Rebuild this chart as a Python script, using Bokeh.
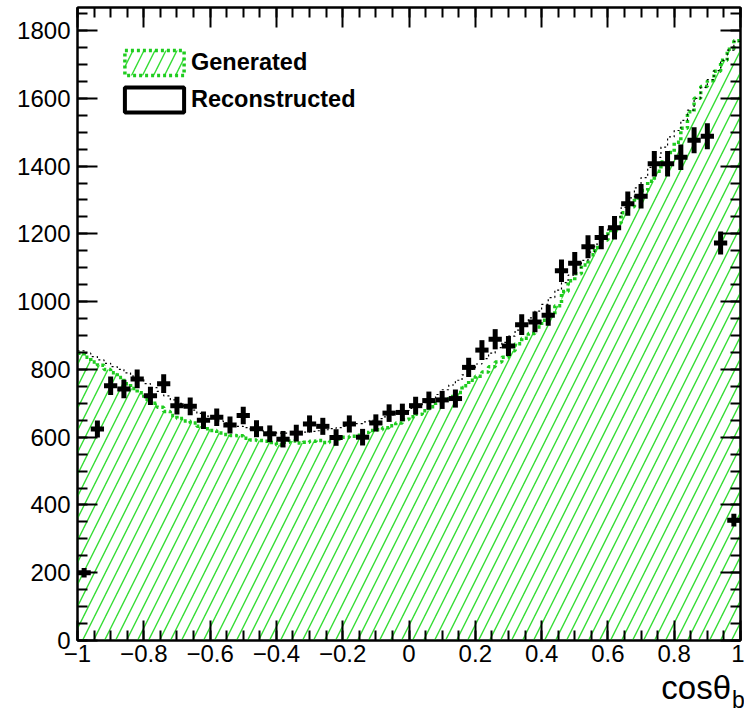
import numpy as np
from bokeh.plotting import figure
from bokeh.layouts import column
from bokeh.models import (Range1d, LinearAxis, FixedTicker, CustomJSTickFormatter,
                          Legend, LegendItem, Div)
from bokeh.embed import file_html
from bokeh.resources import INLINE

# ---- data -----------------------------------------------------------------
# Generated distribution: 100 bins on [-1, 1]
gen_lo, gen_hi, gen_nbins = -1.0, 1.0, 100
gen_counts = [
    848, 836, 822, 812, 800, 790, 776, 758, 744, 731,
    712, 700, 688, 676, 664, 655, 648, 642, 632, 625,
    620, 612, 608, 605, 604, 597, 592, 590, 588, 584,
    577, 585, 589, 583, 585, 588, 590, 584, 587, 595,
    600, 603, 606, 614, 620, 622, 628, 634, 642, 652,
    660, 668, 678, 690, 700, 710, 720, 732, 752, 768,
    780, 792, 808, 822, 836, 855, 876, 892, 906, 925,
    945, 962, 988, 1030, 1062, 1082, 1108, 1138, 1160, 1182,
    1210, 1232, 1262, 1280, 1306, 1328, 1355, 1385, 1412, 1440,
    1470, 1512, 1560, 1600, 1635, 1652, 1680, 1712, 1745, 1770,
]

# Dotted reference curve (same binning)
ref_counts = [
    855, 848, 838, 828, 818, 808, 800, 790, 780, 770,
    758, 746, 735, 722, 710, 700, 690, 680, 670, 662,
    655, 648, 642, 636, 632, 628, 624, 620, 617, 614,
    612, 612, 612, 613, 615, 617, 619, 622, 625, 628,
    632, 636, 640, 645, 650, 655, 660, 666, 672, 678,
    685, 692, 702, 714, 726, 740, 754, 768, 784, 800,
    816, 832, 848, 864, 880, 898, 916, 934, 952, 972,
    992, 1012, 1034, 1056, 1078, 1100, 1122, 1146, 1170, 1196,
    1222, 1250, 1278, 1306, 1336, 1366, 1396, 1426, 1456, 1486,
    1505, 1535, 1565, 1600, 1632, 1655, 1682, 1712, 1742, 1768,
]

# Reconstructed distribution: 50 bins on [-1, 1]
reco_lo, reco_hi, reco_nbins = -1.0, 1.0, 50
reco_counts = [
    200, 624, 752, 742, 772, 722, 758, 693, 691, 650,
    659, 636, 664, 625, 610, 594, 612, 639, 632, 599,
    639, 600, 642, 671, 673, 693, 708, 710, 714, 806,
    857, 889, 869, 932, 940, 960, 1091, 1113, 1162, 1189,
    1218, 1289, 1311, 1407, 1407, 1426, 1476, 1488, 1173, 355,
]

x_major = [-1.0, -0.8, -0.6, -0.4, -0.2, 0.0, 0.2, 0.4, 0.6, 0.8, 1.0]
y_major = [0, 200, 400, 600, 800, 1000, 1200, 1400, 1600, 1800]

GREEN = "#1fcc1f"
HATCH_GREEN = "#33dd33"
FONT = "Liberation Sans"

# ---- derived arrays -------------------------------------------------------
gen_edges = np.linspace(gen_lo, gen_hi, gen_nbins + 1)
gen_step = list(gen_counts) + [gen_counts[-1]]
ref_step = list(ref_counts) + [ref_counts[-1]]

reco_edges = np.linspace(reco_lo, reco_hi, reco_nbins + 1)
reco_x = 0.5 * (reco_edges[:-1] + reco_edges[1:])
reco_y = np.array(reco_counts, dtype=float)
reco_err = np.sqrt(reco_y)

# ---- figure ---------------------------------------------------------------
p = figure(width=744, height=676, output_backend="svg", toolbar_location=None,
           x_range=Range1d(-1, 1), y_range=Range1d(0, 1868),
           min_border_left=77, min_border_right=4, min_border_top=7,
           min_border_bottom=36, background_fill_color="white",
           border_fill_color="white")
p.xgrid.visible = False
p.ygrid.visible = False
p.outline_line_color = "black"
p.outline_line_width = 2

# Generated: hatched area with dotted outline
p.varea_step(x=gen_edges, y1=np.zeros(len(gen_edges)), y2=gen_step, step_mode="after",
             fill_color=None, hatch_pattern="/", hatch_color=HATCH_GREEN,
             hatch_scale=22, hatch_weight=1.4)
p.step(x=gen_edges, y=gen_step, mode="after", line_color=GREEN, line_width=3.5,
       line_dash="3 3")

# Dotted black curve
p.step(x=gen_edges, y=ref_step, mode="after", line_color="black", line_width=1.2,
       line_dash="2 3")

# Reconstructed: error-bar crosses
p.segment(x0=reco_x, x1=reco_x, y0=reco_y - reco_err, y1=reco_y + reco_err,
          line_color="black", line_width=5)
p.segment(x0=reco_edges[:-1], x1=reco_edges[1:], y0=reco_y, y1=reco_y,
          line_color="black", line_width=5)

# ---- axes -----------------------------------------------------------------
x_minor = [round(-1 + 0.05 * i, 4) for i in range(41)]
y_minor = list(range(0, 1868, 50))
xticker = FixedTicker(ticks=x_major, minor_ticks=x_minor)
yticker = FixedTicker(ticks=y_major, minor_ticks=y_minor)

xfmt = CustomJSTickFormatter(code="""
const v = Math.round(tick * 10) / 10;
let s = (Math.abs(v - Math.round(v)) < 1e-9) ? String(Math.round(v)) : v.toFixed(1);
if (s === "-0") s = "0";
return s.replace("-", "\u2212");
""")
blank = CustomJSTickFormatter(code="return '';")


def style_axis(ax, size="24px"):
    ax.axis_line_color = "black"
    ax.axis_line_width = 2
    ax.major_tick_in = 20
    ax.major_tick_out = 0
    ax.minor_tick_in = 10
    ax.minor_tick_out = 0
    ax.major_tick_line_width = 2
    ax.minor_tick_line_width = 2
    ax.major_tick_line_color = "black"
    ax.minor_tick_line_color = "black"
    ax.major_label_text_font = FONT
    ax.major_label_text_font_size = size
    ax.major_label_text_color = "black"


xax = p.xaxis[0]
xax.ticker = xticker
xax.formatter = xfmt
style_axis(xax)
xax.major_label_standoff = 4

yax = p.yaxis[0]
yax.ticker = yticker
style_axis(yax)
yax.major_label_standoff = 7

top = LinearAxis(ticker=xticker, formatter=blank)
style_axis(top, "0px")
top.major_label_standoff = 0
p.add_layout(top, "above")

right = LinearAxis(ticker=yticker, formatter=blank)
style_axis(right, "0px")
right.major_label_standoff = 0
p.add_layout(right, "right")

# ---- legend ---------------------------------------------------------------
# key swatches sit outside the visible x range; only the legend shows them
gen_key = p.quad(left=[5], right=[6], top=[1], bottom=[0], fill_color=None,
                 hatch_pattern="/", hatch_color=HATCH_GREEN, hatch_scale=22,
                 hatch_weight=1.4, line_color=GREEN, line_width=3.5, line_dash="3 3")
reco_key = p.quad(left=[5], right=[6], top=[1], bottom=[0], fill_color=None,
                  line_color="black", line_width=4)

legend = Legend(items=[LegendItem(label="Generated", renderers=[gen_key]),
                       LegendItem(label="Reconstructed", renderers=[reco_key])],
                location="top_left", margin=40, padding=0, spacing=6,
                glyph_width=74, glyph_height=31, label_standoff=0,
                label_text_font=FONT, label_text_font_size="23.5px",
                label_text_font_style="bold", label_text_color="black",
                border_line_color=None, background_fill_alpha=0)
p.add_layout(legend)

# ---- x-axis title (lower right, with subscript) ---------------------------
title_html = (
    '<div style="position:relative;width:744px;height:37px;'
    'font-family:\'Liberation Sans\';color:black;">'
    '<span style="position:absolute;right:13px;top:-5px;font-size:33px;'
    'line-height:33px;">cos&theta;</span>'
    '<span style="position:absolute;left:732px;top:13px;font-size:23px;'
    'line-height:23px;">b</span>'
    '</div>'
)
xtitle = Div(text=title_html, width=744, height=37, margin=(0, 0, 0, 0))

layout = column(p, xtitle, spacing=0)

open("out.html", "w").write(file_html(layout, INLINE))
